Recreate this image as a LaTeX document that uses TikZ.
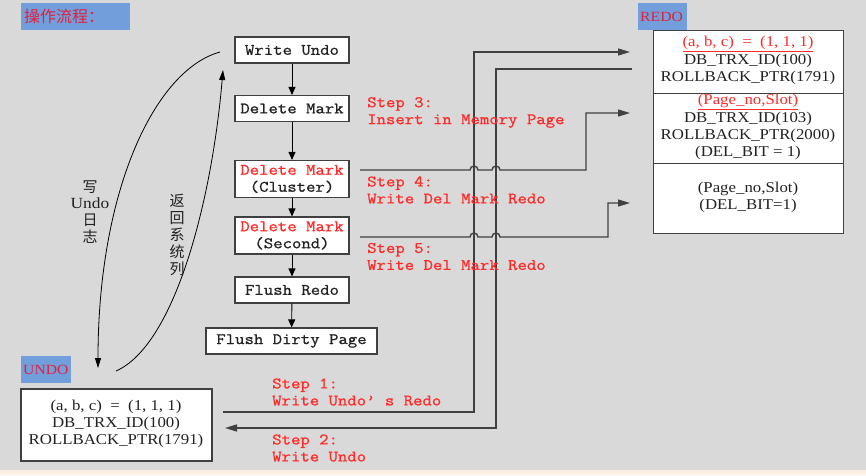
\documentclass[tikz,border=0pt]{standalone}
\usepackage{fontspec}
\setmainfont{Liberation Serif}
\setmonofont{Latin Modern Mono}[FakeStretch=1.14,FakeBold=1.0]
\newfontfamily\ser[FakeStretch=1.12]{Liberation Serif}
\newfontfamily\cjk{Noto Sans CJK SC}
\usetikzlibrary{arrows.meta}
\definecolor{bg}{HTML}{D9D9D9}
\definecolor{cream}{HTML}{FCEFE4}
\definecolor{lbl}{HTML}{729FDB}
\definecolor{lblred}{HTML}{E0203C}
\definecolor{stepred}{HTML}{FF2A2A}
\definecolor{edge}{HTML}{404040}
\definecolor{ink}{HTML}{222222}
\begin{document}
\begin{tikzpicture}[x=1pt,y=-1pt,
  box/.style={draw=edge, fill=white, line width=1.1pt, minimum width=114pt, minimum height=26pt,
    inner sep=0pt, text=ink, font=\ttfamily\fontsize{16}{17}\selectfont, align=center},
  flow/.style={-{Triangle[length=8pt,width=7pt]}, line width=0.9pt, black},
  curvearrow/.style={-{Triangle[length=10pt,width=6pt]}, line width=0.8pt, black},
  wire/.style={line width=1.4pt, draw=edge},
  tip/.style={-{Triangle[length=12pt,width=7pt]}},
  steptext/.style={text=stepred, font=\ttfamily\fontsize{16}{17}\selectfont, align=left, anchor=west, inner sep=0pt},
  labelbox/.style={fill=lbl, inner sep=0pt, anchor=north west},
  labeltext/.style={text=lblred, font=\ser\fontsize{14}{16}\selectfont, anchor=west, inner sep=0pt},
  datatext/.style={text=ink, font=\ser\fontsize{15}{16}\selectfont, inner sep=0pt},
  reddata/.style={text=stepred, font=\ser\fontsize{15}{16}\selectfont, inner sep=0pt},
  vlabel/.style={text=ink, font=\cjk\fontsize{15}{16}\selectfont, inner sep=0pt}
]
\useasboundingbox (0,0) rectangle (866,475);
% background
\fill[cream] (0,0) rectangle (866,475);
\fill[bg, rounded corners=9pt] (-20,-20) rectangle (880,470);

% title label
\node[labelbox, minimum width=109pt, minimum height=27pt] (title) at (21,3) {};
\node[text=lblred, font=\cjk\fontsize{16}{18}\selectfont, anchor=west, inner sep=0pt] (titletext) at (24,16.5) {操作流程：};

% flow boxes
\node[box] (wu) at (292,50) {Write Undo};
\node[box] (dm) at (292,108.5) {Delete Mark};
\node[box, minimum height=37pt] (dmc) at (292,179) {\textcolor{stepred}{Delete Mark}\\(Cluster)};
\node[box, minimum height=37pt] (dms) at (292,235.5) {\textcolor{stepred}{Delete Mark}\\(Second)};
\node[box] (fr) at (292,290) {Flush Redo};
\node[box, minimum width=171pt] (fdp) at (291.5,341) {Flush Dirty Page};

\draw[flow] (wu) -- (dm);
\draw[flow] (dm) -- (dmc);
\draw[flow] (dmc) -- (dms);
\draw[flow] (dms) -- (fr);
\draw[flow] (fr) -- (fdp);

% UNDO
\node[labelbox, minimum width=50pt, minimum height=27pt] (undolbl) at (21,356) {};
\node[labeltext] (undotext) at (23,369.5) {UNDO};
\node[draw=edge, fill=white, line width=1.1pt, minimum width=191pt, minimum height=72pt, inner sep=0pt] (undo) at (116.5,425) {};
\node[datatext] (u1) at (116,407) {(a, b, c)\ \ =\ \ (1, 1, 1)};
\node[datatext] (u2) at (116,424) {DB\_TRX\_ID(100)};
\node[datatext] (u3) at (116,441) {ROLLBACK\_PTR(1791)};

% REDO
\node[labelbox, minimum width=49pt, minimum height=27pt] (redolbl) at (638,3) {};
\node[labeltext] (redotext) at (640,16.5) {REDO};
\node[draw=edge, fill=white, line width=1.1pt, minimum width=190pt, minimum height=63pt, inner sep=0pt, anchor=north west] (r1) at (653,30) {};
\node[draw=edge, fill=white, line width=1.1pt, minimum width=190pt, minimum height=70pt, inner sep=0pt, anchor=north west] (r2) at (653,93) {};
\node[draw=edge, fill=white, line width=1.1pt, minimum width=190pt, minimum height=70pt, inner sep=0pt, anchor=north west] (r3) at (653,163) {};
\node[reddata] (r1a) at (748,44) {\underline{(a, b, c)\ \ =\ \ (1, 1, 1)}};
\node[datatext] (r1b) at (748,61) {DB\_TRX\_ID(100)};
\node[datatext] (r1c) at (748,78) {ROLLBACK\_PTR(1791)};
\node[reddata] (r2a) at (748,102) {\underline{(Page\_no,Slot)}};
\node[datatext] (r2b) at (748,118.5) {DB\_TRX\_ID(103)};
\node[datatext] (r2c) at (748,136) {ROLLBACK\_PTR(2000)};
\node[datatext] (r2d) at (748,153) {(DEL\_BIT = 1)};
\node[datatext] (r3a) at (748,189) {(Page\_no,Slot)};
\node[datatext] (r3b) at (748,206) {(DEL\_BIT=1)};

% connector ends
\coordinate (s1a) at (223,412);
\coordinate (s1b) at (630,52);
\coordinate (s2a) at (632,69);
\coordinate (s2b) at (225,428);
\coordinate (s4a) at (360,170);
\coordinate (s4b) at (630,113);
\coordinate (s5a) at (360,237);
\coordinate (s5b) at (630,203);

% step 1: undo -> redo
\draw[wire, tip] (s1a) -- (474,412) -- (474,52) -- (s1b);
% step 2: redo -> undo
\draw[wire, tip] (s2a) -- (496,69) -- (496,428) -- (s2b);
% step 4
\draw[wire, tip] (s4a) -- (470,170) arc (180:360:4) -- (492,170) arc (180:360:4) -- (586,170) -- (586,113) -- (s4b);
% step 5
\draw[wire, tip] (s5a) -- (470,237) arc (180:360:4) -- (492,237) arc (180:360:4) -- (608,237) -- (608,203) -- (s5b);

% step texts
\node[steptext] (st3) at (367,112.5) {Step 3:\\Insert in Memory Page};
\node[steptext] (st4) at (367,190) {Step 4:\\Write Del Mark Redo};
\node[steptext] (st5) at (367,256.5) {Step 5:\\Write Del Mark Redo};
\node[steptext] (st1) at (272,392) {Step 1:\\Write Undo’ s Redo};
\node[steptext] (st2) at (272,448) {Step 2:\\Write Undo};

% curves
\draw[curvearrow] (220,52) .. controls (155,70) and (98,190) .. (98,368);
\draw[curvearrow] (116,371) .. controls (175,345) and (212,200) .. (223,70);

\node[vlabel] (c1) at (90,187) {写};
\node[datatext, font=\ser\fontsize{15.5}{16}\selectfont] (c2) at (90,203) {Undo};
\node[vlabel] (c3) at (90,220) {日};
\node[vlabel] (c4) at (90,237) {志};

\node[vlabel] (d1) at (177,201) {返};
\node[vlabel] (d2) at (177,218) {回};
\node[vlabel] (d3) at (177,235) {系};
\node[vlabel] (d4) at (177,252) {统};
\node[vlabel] (d5) at (177,269) {列};
\end{tikzpicture}
\end{document}
